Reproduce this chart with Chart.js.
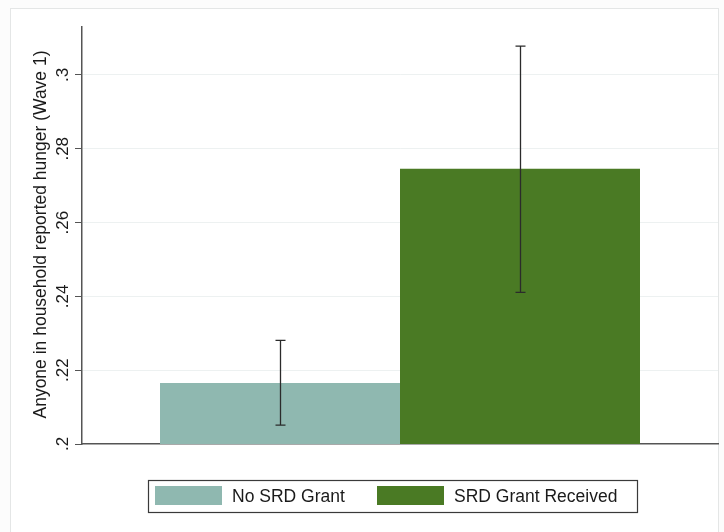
<!DOCTYPE html>
<html>
<head>
<meta charset="utf-8">
<script src="https://cdn.jsdelivr.net/npm/chart.js@4"></script>
<style>
  html, body { margin: 0; padding: 0; background: #fcfcfc; }
  canvas { display: block; }
</style>
</head>
<body>
<canvas id="myChart" width="724" height="532"></canvas>
<script>
/* data */
let groups = ['No SRD Grant', 'SRD Grant Received'];
let means = [0.2165, 0.2746];
let lower = [0.2051, 0.2411];
let upper = [0.2281, 0.3078];
let yTicks = [0.2, 0.22, 0.24, 0.26, 0.28, 0.3];
let colors = ['#8fb8b0', '#4a7a24'];
let yTitle = 'Anyone in household reported hunger (Wave 1)';

let font = "'Liberation Sans', Arial, Helvetica, sans-serif";

/* outer frame + white plot region */
let framePlugin = {
  id: 'frame',
  beforeDraw(chart) {
    let ctx = chart.ctx;
    ctx.save();
    ctx.fillStyle = '#ffffff';
    ctx.fillRect(10, 8, 708, 530);
    ctx.strokeStyle = '#e4e6e6';
    ctx.lineWidth = 1;
    ctx.strokeRect(10.5, 8.5, 708, 530);
    ctx.restore();
  }
};

/* y axis title, centred on the plot height */
let yTitlePlugin = {
  id: 'yTitle',
  afterDraw(chart) {
    let ctx = chart.ctx;
    let area = chart.chartArea;
    ctx.save();
    ctx.translate(41, (area.top + area.bottom) / 2 - 1);
    ctx.rotate(-Math.PI / 2);
    ctx.font = '17.5px ' + font;
    ctx.fillStyle = '#1a1a1a';
    ctx.textAlign = 'center';
    ctx.textBaseline = 'middle';
    ctx.fillText(yTitle, 0, 0);
    ctx.restore();
  }
};

/* confidence intervals */
let errorBars = {
  id: 'errorBars',
  afterDatasetsDraw(chart) {
    let ctx = chart.ctx;
    let y = chart.scales.y;
    ctx.save();
    ctx.strokeStyle = '#2b2b2b';
    ctx.lineWidth = 1.3;
    chart.data.datasets.forEach((ds, i) => {
      let bar = chart.getDatasetMeta(i).data[0];
      let x = Math.round(bar.x) + 0.5;
      let top = y.getPixelForValue(upper[i]);
      let bot = y.getPixelForValue(lower[i]);
      ctx.beginPath();
      ctx.moveTo(x, top); ctx.lineTo(x, bot);
      ctx.moveTo(x - 5, top); ctx.lineTo(x + 5, top);
      ctx.moveTo(x - 5, bot); ctx.lineTo(x + 5, bot);
      ctx.stroke();
    });
    ctx.restore();
  }
};

/* boxed legend below the plot */
let boxLegend = {
  id: 'boxLegend',
  afterDraw(chart) {
    let ctx = chart.ctx;
    let left = 148, top = 480, w = 489, h = 32;
    ctx.save();
    ctx.strokeStyle = '#3a3a3a';
    ctx.lineWidth = 1.2;
    ctx.strokeRect(left + 0.5, top + 0.5, w, h);
    ctx.font = '17.5px ' + font;
    ctx.textBaseline = 'middle';
    let xs = [155, 377];
    chart.data.datasets.forEach((ds, i) => {
      ctx.fillStyle = ds.backgroundColor;
      ctx.fillRect(xs[i], top + 6, 67, 19);
      ctx.fillStyle = '#1a1a1a';
      ctx.fillText(ds.label, xs[i] + 77, top + h / 2 + 1);
    });
    ctx.restore();
  }
};

let ctx = document.getElementById('myChart').getContext('2d');
let my_chart = new Chart(ctx, {
  type: 'bar',
  data: {
    labels: [''],
    datasets: groups.map((g, i) => ({
      label: g,
      data: [means[i]],
      backgroundColor: colors[i],
      borderWidth: 0,
      barPercentage: 1,
      categoryPercentage: 480 / 636,
    })),
  },
  options: {
    responsive: false,
    devicePixelRatio: 1,
    animation: false,
    layout: { padding: { top: 27, right: 6, bottom: 88, left: 0 } },
    plugins: {
      legend: { display: false },
      tooltip: { enabled: false },
    },
    scales: {
      x: {
        grid: { display: false },
        ticks: { display: false },
        border: { color: '#555', width: 1.5 },
        afterFit(s) { s.height = 0; },
      },
      y: {
        min: 0.2,
        max: 0.313,
        afterFit(s) { s.width = 82; },
        afterBuildTicks(s) { s.ticks = yTicks.map(v => ({ value: v })); },
        grid: {
          color: c => c.tick && c.tick.value === 0.2 ? 'rgba(0,0,0,0)' : '#edf1f1',
          tickColor: '#555',
          tickLength: 7,
          lineWidth: 1,
        },
        border: { color: '#555', width: 1.5 },
        ticks: {
          minRotation: 90,
          maxRotation: 90,
          crossAlign: 'center',
          padding: 0,
          color: '#1a1a1a',
          font: { family: font, size: 17 },
          callback: v => String(Math.round(v * 100) / 100).replace(/^0/, ''),
        },
        title: { display: false },
      },
    },
  },
  plugins: [framePlugin, errorBars, boxLegend, yTitlePlugin],
});
</script>
</body>
</html>
